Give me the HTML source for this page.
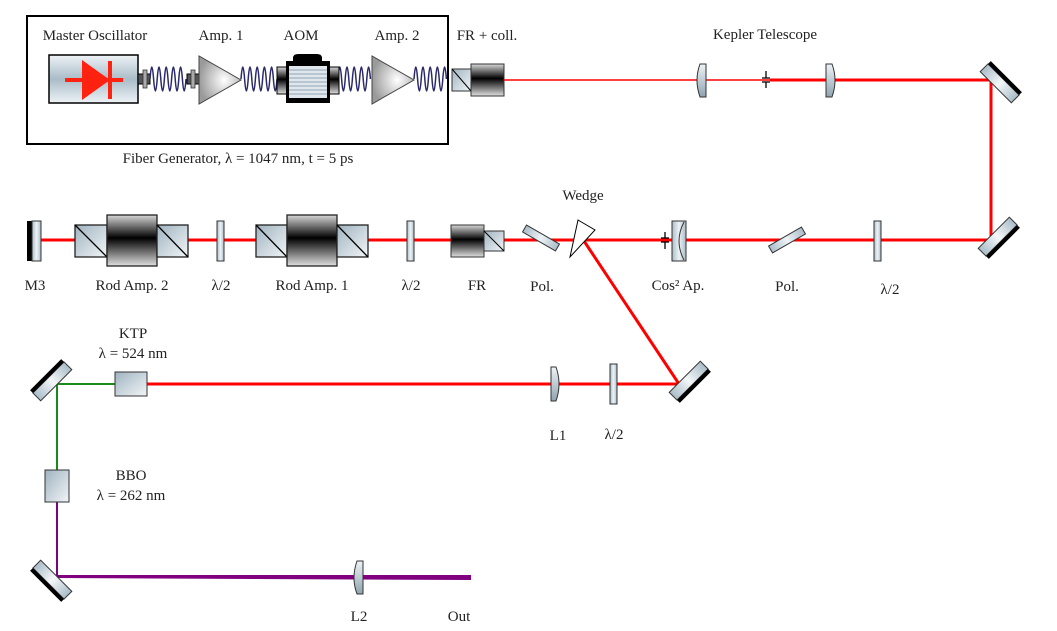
<!DOCTYPE html>
<html><head><meta charset="utf-8"><style>
html,body{margin:0;padding:0;background:#fff}
svg{display:block}
text{font-family:"Liberation Serif",serif;font-size:14px;fill:#222;text-anchor:middle}
</style></head><body>
<svg width="1057" height="631" viewBox="0 0 1057 631" xmlns="http://www.w3.org/2000/svg">
<defs>
<linearGradient id="met" x1="0" y1="0" x2="0" y2="1"><stop offset="0" stop-color="#eef3f6"/><stop offset="0.5" stop-color="#a9bcc8"/><stop offset="1" stop-color="#eef3f6"/></linearGradient>
<linearGradient id="cube" x1="0" y1="0" x2="1" y2="1"><stop offset="0" stop-color="#9fb3c0"/><stop offset="1" stop-color="#f2f5f7"/></linearGradient>
<linearGradient id="blk" x1="0" y1="0" x2="0" y2="1"><stop offset="0" stop-color="#d8d8d8"/><stop offset="0.45" stop-color="#000"/><stop offset="1" stop-color="#e0e0e0"/></linearGradient>
<linearGradient id="plate" x1="0" y1="0" x2="1" y2="0"><stop offset="0" stop-color="#a9bcc8"/><stop offset="0.5" stop-color="#eef3f6"/><stop offset="1" stop-color="#a9bcc8"/></linearGradient>
<linearGradient id="lens" x1="0" y1="0" x2="0" y2="1"><stop offset="0" stop-color="#eef3f6"/><stop offset="1" stop-color="#8fa3b0"/></linearGradient>
<radialGradient id="tri" cx="0.6" cy="0.5" r="0.6"><stop offset="0" stop-color="#fff"/><stop offset="1" stop-color="#9a9a9a"/></radialGradient>
<linearGradient id="mir" x1="0" y1="0" x2="1" y2="0"><stop offset="0" stop-color="#a9bcc8"/><stop offset="0.5" stop-color="#f4f7f9"/><stop offset="1" stop-color="#a9bcc8"/></linearGradient>
</defs>

<rect x="27" y="16" width="421" height="128" fill="none" stroke="#000" stroke-width="2"/>
<text x="95" y="40" style="font-size:15px">Master Oscillator</text>
<text x="221" y="40" style="font-size:15px">Amp. 1</text>
<text x="301" y="40" style="font-size:15px">AOM</text>
<text x="397" y="40" style="font-size:15px">Amp. 2</text>
<text x="487" y="40" style="font-size:15px">FR + coll.</text>
<text x="238" y="163" style="font-size:15px">Fiber Generator, λ = 1047 nm, t = 5 ps</text>

<rect x="49" y="55" width="89" height="48" fill="url(#met)" stroke="#000" stroke-width="1.5"/>
<line x1="65" y1="80" x2="123" y2="80" stroke="#f21" stroke-width="4"/>
<polygon points="82,60 82,100 110,80" fill="#f21"/>
<line x1="110" y1="61" x2="110" y2="99" stroke="#f21" stroke-width="4"/>
<rect x="138" y="74" width="12" height="10" fill="#555" stroke="#000"/>
<rect x="143" y="70" width="4" height="18" fill="#aaa" stroke="#333" stroke-width="0.8"/>
<rect x="187" y="74" width="12" height="10" fill="#555" stroke="#000"/>
<rect x="191" y="70" width="4" height="18" fill="#aaa" stroke="#333" stroke-width="0.8"/>
<g fill="none" stroke="#2a2a6a" stroke-width="1.5">
<path d="M150,79 q1.8,-24 3.6,0 q1.8,24 3.6,0 q1.8,-24 3.6,0 q1.8,24 3.6,0 q1.8,-24 3.6,0 q1.8,24 3.6,0 q1.8,-24 3.6,0 q1.8,24 3.6,0 q1.8,-24 3.6,0 q1.8,24 3.6,0"/>
<path d="M241,79 q1.8,-24 3.6,0 q1.8,24 3.6,0 q1.8,-24 3.6,0 q1.8,24 3.6,0 q1.8,-24 3.6,0 q1.8,24 3.6,0 q1.8,-24 3.6,0 q1.8,24 3.6,0 q1.8,-24 3.6,0 q1.8,24 3.6,0"/>
<path d="M338,79 q1.8,-24 3.6,0 q1.8,24 3.6,0 q1.8,-24 3.6,0 q1.8,24 3.6,0 q1.8,-24 3.6,0 q1.8,24 3.6,0 q1.8,-24 3.6,0 q1.8,24 3.6,0 q1.8,-24 3.6,0"/>
<path d="M414,79 q1.8,-24 3.6,0 q1.8,24 3.6,0 q1.8,-24 3.6,0 q1.8,24 3.6,0 q1.8,-24 3.6,0 q1.8,24 3.6,0 q1.8,-24 3.6,0 q1.8,24 3.6,0 q1.8,-24 3.6,0"/>
</g>
<polygon points="199,56 199,104 241,80" fill="url(#tri)" stroke="#444"/>
<polygon points="372,56 372,104 414,80" fill="url(#tri)" stroke="#444"/>
<rect x="277" y="67" width="11" height="27" fill="url(#blk)" stroke="#000"/>
<rect x="328" y="67" width="11" height="27" fill="url(#blk)" stroke="#000"/>
<path d="M293,62 L293,57 Q294,54 298,54 L317,54 Q321,54 322,57 L322,62 Z" fill="#000"/>
<rect x="286" y="61" width="44" height="42" fill="#000"/>
<rect x="289" y="66" width="38" height="32" fill="#dfe7ec"/>
<g stroke="#8fa5b3" stroke-width="1"><line x1="289" y1="70" x2="327" y2="70"/><line x1="289" y1="74" x2="327" y2="74"/><line x1="289" y1="78" x2="327" y2="78"/><line x1="289" y1="82" x2="327" y2="82"/><line x1="289" y1="86" x2="327" y2="86"/><line x1="289" y1="90" x2="327" y2="90"/><line x1="289" y1="94" x2="327" y2="94"/></g>
<rect x="452" y="69" width="19" height="22" fill="url(#cube)" stroke="#333"/>
<line x1="452" y1="69" x2="471" y2="91" stroke="#000"/>
<rect x="471" y="64" width="33" height="32" fill="url(#blk)" stroke="#333"/>

<line x1="504" y1="80" x2="770" y2="80" stroke="#f00" stroke-width="1.5"/>
<line x1="770" y1="80" x2="991" y2="80" stroke="#f00" stroke-width="3"/>
<line x1="991" y1="79" x2="991" y2="241" stroke="#f00" stroke-width="3"/>
<line x1="27" y1="240" x2="991" y2="240" stroke="#f00" stroke-width="3"/>
<line x1="584" y1="241" x2="679" y2="384" stroke="#f00" stroke-width="3"/>
<line x1="147" y1="384" x2="679" y2="384" stroke="#f00" stroke-width="3"/>
<line x1="57" y1="384" x2="115" y2="384" stroke="#1a8a1a" stroke-width="2"/>
<line x1="57" y1="384" x2="57" y2="470" stroke="#1a8a1a" stroke-width="2"/>
<line x1="57" y1="502" x2="57" y2="576" stroke="#800080" stroke-width="2"/>
<polygon points="57,575 471,575 471,580 57,578" fill="#800080"/>

<text x="765" y="39" style="font-size:15px">Kepler Telescope</text>
<path d="M700,64 L706,64 L706,97 L700,97 Q694,80 700,64 Z" fill="url(#lens)" stroke="#333"/>
<path d="M826,64 L832,64 Q838,80 832,97 L826,97 Z" fill="url(#lens)" stroke="#333"/>
<g stroke="#000" stroke-width="1.3"><line x1="762" y1="78" x2="770" y2="78"/><line x1="762" y1="82" x2="770" y2="82"/><line x1="766" y1="71" x2="766" y2="78"/><line x1="766" y1="82" x2="766" y2="88"/></g>

<g transform="translate(1000,83) rotate(45)"><rect x="-22" y="-5" width="44" height="11" fill="url(#mir)" stroke="#333"/><rect x="-22" y="-9" width="44" height="4" fill="#000"/></g>
<g transform="translate(998,237) rotate(-45)"><rect x="-22" y="-6" width="44" height="11" fill="url(#mir)" stroke="#333"/><rect x="-22" y="5" width="44" height="4" fill="#000"/></g>
<g transform="translate(689,381) rotate(-45)"><rect x="-22" y="-6" width="44" height="11" fill="url(#mir)" stroke="#333"/><rect x="-22" y="5" width="44" height="4" fill="#000"/></g>
<g transform="translate(52,381) rotate(-45)"><rect x="-22" y="-5" width="44" height="11" fill="url(#mir)" stroke="#333"/><rect x="-22" y="-9" width="44" height="4" fill="#000"/></g>
<g transform="translate(52,580) rotate(45)"><rect x="-22" y="-6" width="44" height="11" fill="url(#mir)" stroke="#333"/><rect x="-22" y="5" width="44" height="4" fill="#000"/></g>

<rect x="27" y="221" width="5" height="40" fill="#000"/>
<rect x="32" y="221" width="9" height="40" fill="url(#plate)" stroke="#333"/>
<rect x="75" y="225" width="32" height="32" fill="url(#cube)" stroke="#222" stroke-width="1.3"/><line x1="75" y1="225" x2="107" y2="257" stroke="#000" stroke-width="1.3"/>
<rect x="107" y="215" width="50" height="51" fill="url(#blk)" stroke="#222" stroke-width="1.3"/>
<rect x="157" y="225" width="31" height="32" fill="url(#cube)" stroke="#222" stroke-width="1.3"/><line x1="157" y1="225" x2="188" y2="257" stroke="#000" stroke-width="1.3"/>
<rect x="217" y="221" width="7" height="40" fill="url(#plate)" stroke="#333"/>
<rect x="256" y="225" width="31" height="32" fill="url(#cube)" stroke="#222" stroke-width="1.3"/><line x1="256" y1="225" x2="287" y2="257" stroke="#000" stroke-width="1.3"/>
<rect x="287" y="215" width="50" height="51" fill="url(#blk)" stroke="#222" stroke-width="1.3"/>
<rect x="337" y="225" width="31" height="32" fill="url(#cube)" stroke="#222" stroke-width="1.3"/><line x1="337" y1="225" x2="368" y2="257" stroke="#000" stroke-width="1.3"/>
<rect x="407" y="221" width="7" height="40" fill="url(#plate)" stroke="#333"/>
<rect x="451" y="225" width="33" height="32" fill="url(#blk)" stroke="#333"/>
<rect x="484" y="231" width="20" height="20" fill="url(#cube)" stroke="#333"/><line x1="484" y1="231" x2="504" y2="251" stroke="#000"/>
<g transform="translate(541,238) rotate(30)"><rect x="-19" y="-4" width="38" height="8" fill="url(#plate)" stroke="#333"/></g>
<polygon points="578,220 595,230 570,257" fill="#fff" stroke="#000"/>
<g stroke="#000" stroke-width="1.3"><line x1="661" y1="238" x2="669" y2="238"/><line x1="661" y1="242" x2="669" y2="242"/><line x1="665" y1="232" x2="665" y2="238"/><line x1="665" y1="242" x2="665" y2="249"/></g>
<rect x="672" y="221" width="14" height="40" fill="url(#plate)" stroke="#333"/>
<path d="M684,222 Q674,241 684,260" fill="none" stroke="#333"/>
<g transform="translate(787,240) rotate(-30)"><rect x="-19" y="-4" width="38" height="8" fill="url(#plate)" stroke="#333"/></g>
<rect x="874" y="221" width="7" height="40" fill="url(#plate)" stroke="#333"/>

<text x="583" y="200" style="font-size:15px">Wedge</text>
<text x="35" y="290" style="font-size:15px">M3</text>
<text x="132" y="290" style="font-size:15px">Rod Amp. 2</text>
<text x="221" y="290" style="font-size:15px">λ/2</text>
<text x="312" y="290" style="font-size:15px">Rod Amp. 1</text>
<text x="411" y="290" style="font-size:15px">λ/2</text>
<text x="477" y="290" style="font-size:15px">FR</text>
<text x="542" y="291" style="font-size:15px">Pol.</text>
<text x="678" y="290" style="font-size:15px">Cos² Ap.</text>
<text x="787" y="291" style="font-size:15px">Pol.</text>
<text x="890" y="294" style="font-size:15px">λ/2</text>

<path d="M551,367 L556,367 Q562,384 556,401 L551,401 Z" fill="url(#lens)" stroke="#333"/>
<rect x="610" y="364" width="7" height="40" fill="url(#plate)" stroke="#333"/>
<text x="558" y="440" style="font-size:15px">L1</text>
<text x="614" y="439" style="font-size:15px">λ/2</text>
<rect x="115" y="372" width="32" height="24" fill="url(#cube)" stroke="#333"/>
<text x="133" y="338" style="font-size:15px">KTP</text>
<text x="133" y="358" style="font-size:15px">λ = 524 nm</text>
<rect x="45" y="470" width="24" height="32" fill="url(#cube)" stroke="#333"/>
<text x="131" y="480" style="font-size:15px">BBO</text>
<text x="131" y="500" style="font-size:15px">λ = 262 nm</text>
<path d="M357,561 L363,561 L363,594 L357,594 Q351,578 357,561 Z" fill="url(#lens)" stroke="#333"/>
<text x="359" y="621" style="font-size:15px">L2</text>
<text x="459" y="621" style="font-size:15px">Out</text>
</svg>
</body></html>
